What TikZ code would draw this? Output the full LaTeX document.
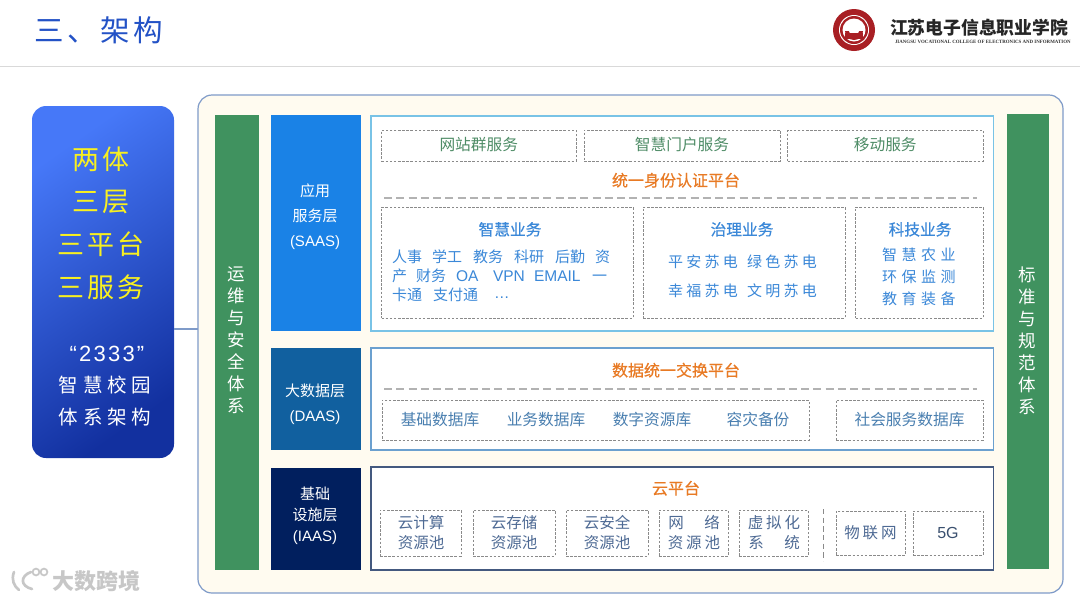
\documentclass[tikz,border=0pt]{standalone}
\usepackage{fontspec}
\setmainfont{Noto Sans CJK SC}
\newfontfamily\lat{Liberation Sans}
\newfontfamily\capfont{Liberation Serif}
\newcommand\fpx[1]{\fontsize{\the\dimexpr#1pt*3/4\relax}{\the\dimexpr#1pt*3/4*6/5\relax}\selectfont}
\newcommand\ls[1]{\addfontfeature{LetterSpace=#1}}
\newcommand\semi{\addfontfeature{FakeBold=0.5}}
\definecolor{titleblue}{HTML}{2352C6}
\definecolor{frameline}{HTML}{7F9BC9}
\definecolor{framefill}{HTML}{FFFBF0}
\definecolor{sidegreen}{HTML}{40925F}
\definecolor{saasblue}{HTML}{1A82E6}
\definecolor{daasblue}{HTML}{11609F}
\definecolor{iaasblue}{HTML}{011F5E}
\definecolor{orangetxt}{HTML}{E87A24}
\definecolor{greentxt}{HTML}{4E8C66}
\definecolor{bluetxt}{HTML}{3B88D8}
\definecolor{steeltxt}{HTML}{4A7FB0}
\definecolor{navytxt}{HTML}{4E6A94}
\definecolor{dashgray}{HTML}{8A8A8A}
\definecolor{logored}{HTML}{A81F24}
\definecolor{yellowtxt}{HTML}{F8F020}
\definecolor{panellight}{HTML}{4678F8}
\definecolor{paneldark}{HTML}{12309F}
\tikzset{
  txt/.style={inner sep=0pt,outer sep=0pt,anchor=center},
  wtxt/.style={txt,anchor=west},
  norm/.style={text height=10pt,text depth=2pt},
  dashbox/.style={draw=dashgray,line width=.6pt,dash pattern=on 1.9pt off 1.2pt,inner sep=0pt,outer sep=0pt},
  solidbox/.style={inner sep=0pt,outer sep=0pt},
  sidebar/.style={solidbox,fill=sidegreen},
  layerbox/.style={solidbox,fill=white,line width=1pt},
  layerlabel/.style={txt,norm,text=white,font=\fpx{15}},
  rule/.style={draw=gray!60,line width=1.1pt,dash pattern=on 6pt off 3.2pt},
  svc/.style={dashbox,norm,text=greentxt,font=\fpx{15.7}},
  head/.style={txt,norm,text=orangetxt,font=\fpx{16}\semi},
  bizhead/.style={txt,norm,text=bluetxt,font=\fpx{15.7}\semi},
  biz/.style={wtxt,norm,text=bluetxt,font=\fpx{15}},
  gov/.style={wtxt,norm,text=bluetxt,font=\fpx{15}\ls{22}},
  tech/.style={wtxt,norm,text=bluetxt,font=\fpx{15}\ls{30}},
  dbtxt/.style={txt,norm,text=steeltxt,font=\fpx{15.7}},
  cloudbox/.style={dashbox},
  cloudtxt/.style={txt,norm,text=navytxt,font=\fpx{15.5}},
  cloudsp/.style={txt,norm,text=navytxt,font=\fpx{15.5}\ls{18}},
  vside/.style={txt,text height=12pt,text depth=2pt,text=white,font=\fpx{17.5}},
  yell/.style={txt,text=yellowtxt,font=\fpx{27}\ls{10}},
  whitesp/.style={txt,text=white,font=\fpx{19.5}\ls{25}},
}
% style, name, x1, y1, x2, y2, text
\newcommand\bx[7]{\node[#1,minimum width={(#5-#3)*0.75pt},minimum height={(#6-#4)*0.75pt}] (#2) at ({(#3+#5)/2},{(#4+#6)/2}) {#7};}
\begin{document}
\begin{tikzpicture}[x=0.75pt,y=-0.75pt]
\useasboundingbox (0,0) rectangle (1080,601);
\fill[white] (0,0) rectangle (1080,601);
% header
\node[wtxt,text=titleblue,font=\fpx{29.5}\ls{12}] (title) at (34,30) {三、架构};
\coordinate (hl) at (0,66.5); \coordinate (hr) at (1080,66.5);
\draw[draw=black!15,line width=1.1pt] (hl) -- (hr);
% logo
\fill[logored] (854,30) circle (21);
\fill[white] (854,30) circle (15);
\fill[logored] (854,30) circle (14);
\fill[white] (854,30) circle (11.5);
\fill[logored] (845,31) arc (180:0:9) -- cycle;
\fill[white] (849,31) arc (180:0:5) -- cycle;
\fill[logored] (845,33) rectangle (863,39);
\node[wtxt,text=black!85,font=\fpx{17.8}\bfseries] (logotext) at (890,28) {江苏电子信息职业学院};
\node[wtxt,text=black!80,font=\capfont\fpx{4.9}\bfseries] (logocap) at (895,42) {JIANGSU VOCATIONAL COLLEGE OF ELECTRONICS AND INFORMATION};
% watermark
\draw[black!22,line width=2pt,line cap=round] (14,572) .. controls (11,580) and (14,586) .. (19,590);
\draw[black!22,line width=2pt,line cap=round] (31,572) .. controls (20,576) and (20,586) .. (32,589);
\draw[black!22,line width=1.3pt] (36,572) circle (3.4);
\draw[black!22,line width=1.3pt] (44,572) circle (3.4);
\node[wtxt,text=black!22,font=\fpx{22}\bfseries] (wm) at (52,581) {大数跨境};
% left panel
\bx{solidbox,rounded corners=10.5pt,top color=panellight,bottom color=paneldark,shading angle=35}{leftpanel}{32}{106}{174}{458}{}
\node[yell] (t1) at (101,159) {两体};
\node[yell] (t2) at (101,202) {三层};
\node[yell] (t3) at (101,244) {三平台};
\node[yell] (t4) at (101,287) {三服务};
\node[txt,text=white,font=\lat\fpx{22}\ls{10}] (t5) at (107,354) {“2333”};
\node[whitesp] (t6) at (105,385) {智慧校园};
\node[whitesp] (t7) at (105,417) {体系架构};
% main frame
\bx{solidbox,rounded corners=10.5pt,fill=framefill,draw=frameline,line width=.9pt}{mainframe}{198}{95}{1063}{593}{}
\coordinate (linkstart) at (174,329);
\draw[draw=frameline,line width=.8pt] (linkstart) -- (linkstart -| mainframe.west);
% side bars
\bx{sidebar}{opsbar}{215}{115}{259}{570}{}
\bx{sidebar}{stdbar}{1007}{114}{1049}{569}{}
\foreach \c [count=\i from 0] in {运,维,与,安,全,体,系}{
  \node[vside] (ops\i) at (236,{274+22*\i}) {\c};
}
\foreach \c [count=\i from 0] in {标,准,与,规,范,体,系}{
  \node[vside] (std\i) at (1027,{275+22*\i}) {\c};
}
% layer labels
\bx{solidbox,fill=saasblue}{saas}{271}{115}{361}{331}{}
\bx{solidbox,fill=daasblue}{daas}{271}{348}{361}{450}{}
\bx{solidbox,fill=iaasblue}{iaas}{271}{468}{361}{570}{}
\node[layerlabel] (s1) at (315,191) {应用};
\node[layerlabel] (s2) at (315,216) {服务层};
\node[layerlabel,font=\lat\fpx{15}] (s3) at (315,241) {(SAAS)};
\node[layerlabel] (d1) at (315,391) {大数据层};
\node[layerlabel,font=\lat\fpx{15}] (d2) at (315,416) {(DAAS)};
\node[layerlabel] (i1) at (315,494) {基础};
\node[layerlabel] (i2) at (315,515) {设施层};
\node[layerlabel,font=\lat\fpx{15}] (i3) at (315,536) {(IAAS)};
% layer frames
\bx{layerbox,draw={rgb,255:red,121;green,195;blue,230}}{saasframe}{371}{116}{993.5}{331}{}
\bx{layerbox,draw={rgb,255:red,107;green,160;blue,207}}{daasframe}{371}{348}{993.5}{450}{}
\bx{layerbox,draw={rgb,255:red,68;green,89;blue,127}}{iaasframe}{371}{467}{993.5}{570}{}
% SAAS content
\bx{svc}{svc1}{381.5}{130}{576}{161}{网站群服务}
\bx{svc}{svc2}{584}{130}{780}{161}{智慧门户服务}
\bx{svc}{svc3}{787.5}{130}{983}{161}{移动服务}
\node[head] (idp) at (676,181) {统一身份认证平台};
\coordinate (r1a) at (384,198); \coordinate (r1b) at (977,198);
\draw[rule] (r1a) -- (r1b);
\bx{dashbox}{bizbox}{381.5}{207}{633}{318}{}
\bx{dashbox}{govbox}{643}{207}{845}{318}{}
\bx{dashbox}{techbox}{855.5}{207}{983}{318}{}
\node[bizhead] (bh1) at (510,230) {智慧业务};
\node[bizhead] (bh2) at (742,230) {治理业务};
\node[bizhead] (bh3) at (920,230) {科技业务};
\node[biz] (b1) at (392,257) {人事};
\node[biz] (b2) at (432,257) {学工};
\node[biz] (b3) at (473,257) {教务};
\node[biz] (b4) at (514,257) {科研};
\node[biz] (b5) at (555,257) {后勤};
\node[biz] (b6) at (595,257) {资};
\node[biz] (b7) at (392,276) {产};
\node[biz] (b8) at (416,276) {财务};
\node[biz,font=\lat\fpx{15.5}] (b9) at (456,276) {OA};
\node[biz,font=\lat\fpx{15.5}] (b10) at (493,276) {VPN};
\node[biz,font=\lat\fpx{15.5}] (b11) at (534,276) {EMAIL};
\node[biz] (b12) at (592,276) {一};
\node[biz] (b13) at (392,295) {卡通};
\node[biz] (b14) at (433,295) {支付通};
\node[biz,font=\lat\fpx{15.5}] (b15) at (494,293) {…};
\node[gov] (g1) at (668,262) {平安苏电};
\node[gov] (g2) at (747,262) {绿色苏电};
\node[gov] (g3) at (668,291) {幸福苏电};
\node[gov] (g4) at (747,291) {文明苏电};
\node[tech] (k1) at (882,255) {智慧农业};
\node[tech] (k2) at (882,277) {环保监测};
\node[tech] (k3) at (882,299) {教育装备};
% DAAS content
\node[head] (dxp) at (676,371) {数据统一交换平台};
\coordinate (r2a) at (384,389); \coordinate (r2b) at (977,389);
\draw[rule] (r2a) -- (r2b);
\bx{dashbox}{dbbox}{382}{400}{809}{440}{}
\bx{dashbox,norm,text=steeltxt,font=\fpx{15.7}}{socdb}{836}{400}{983}{440}{社会服务数据库}
\node[dbtxt] (db1) at (440,420) {基础数据库};
\node[dbtxt] (db2) at (546,420) {业务数据库};
\node[dbtxt] (db3) at (652,420) {数字资源库};
\node[dbtxt] (db4) at (758,420) {容灾备份};
% IAAS content
\node[head] (cloud) at (676,489) {云平台};
\bx{cloudbox}{c1}{380}{510}{461}{556}{}
\bx{cloudbox}{c2}{473}{510}{555}{556}{}
\bx{cloudbox}{c3}{566}{510}{648}{556}{}
\bx{cloudbox}{c4}{659}{510}{728}{556}{}
\bx{cloudbox}{c5}{739}{510}{808}{556}{}
\node[cloudtxt] (c1a) at (421,523) {云计算};
\node[cloudtxt] (c1b) at (421,543) {资源池};
\node[cloudtxt] (c2a) at (514,523) {云存储};
\node[cloudtxt] (c2b) at (514,543) {资源池};
\node[cloudtxt] (c3a) at (607,523) {云安全};
\node[cloudtxt] (c3b) at (607,543) {资源池};
\node[cloudtxt] (c4l) at (676,523) {网};
\node[cloudtxt] (c4r) at (712,523) {络};
\node[cloudsp] (c4b) at (694,543) {资源池};
\node[cloudsp] (c5a) at (774,523) {虚拟化};
\node[cloudtxt] (c5l) at (756,543) {系};
\node[cloudtxt] (c5r) at (792,543) {统};
\coordinate (va) at (823.5,509); \coordinate (vb) at (823.5,561);
\draw[draw=dashgray,line width=.7pt,dash pattern=on 4pt off 2.5pt] (va) -- (vb);
\bx{dashbox,norm,text=navytxt,font=\fpx{15.5}\ls{18}}{iot}{836}{511}{905}{555}{物联网}
\bx{dashbox,norm,text=navytxt!75!black,font=\lat\fpx{16}}{fiveg}{913}{511}{983}{555}{5G}
\end{tikzpicture}
\end{document}
